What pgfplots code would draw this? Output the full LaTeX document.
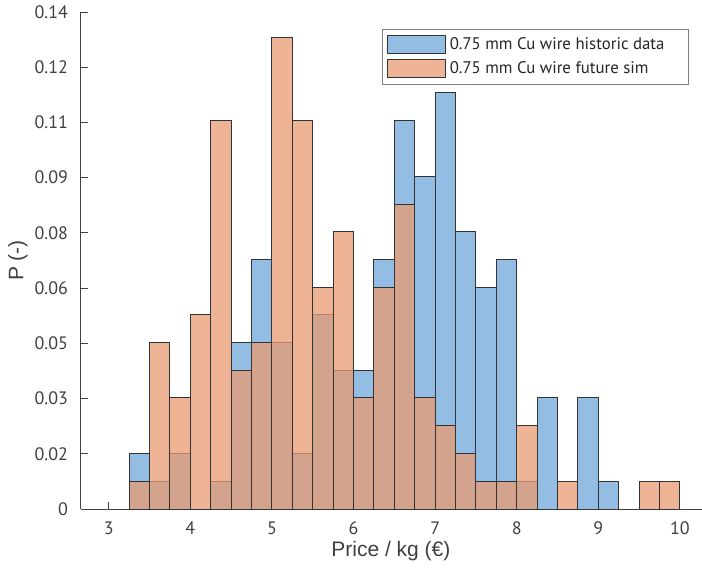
\documentclass[border=0pt]{standalone}
\usepackage{fontspec}
\setmainfont{PT Sans}
\newfontfamily\labelfont{Liberation Sans}
\usepackage{pgfplots}
\pgfplotsset{compat=1.18}
\definecolor{hblue}{RGB}{147,189,226}
\definecolor{forange}{RGB}{234,155,115}
\definecolor{axgray}{RGB}{64,64,64}
\pgfplotsset{histlegend/.style={legend image code/.code={\draw[##1] (0pt,-4.5pt) rectangle (29pt,4.5pt);}}}
\begin{document}
\begin{tikzpicture}
\begin{axis}[
  scale only axis, width=310.5pt, height=248.5pt,
  xmin=2.66, xmax=10.27, ymin=0, ymax=0.14,
  axis x line=bottom, axis y line=left,
  axis line style={-, draw=axgray, line width=0.5pt},
  tick align=inside, major tick length=3.3pt,
  tick style={draw=axgray, line width=0.5pt},
  xtick={3,4,5,6,7,8,9,10},
  ytick={0,0.015556,0.031111,0.046667,0.062222,0.077778,0.093333,0.108889,0.124444,0.14},
  yticklabels={0,0.02,0.03,0.05,0.06,0.08,0.09,0.11,0.12,0.14},
  /pgf/number format/assume math mode=true,
  ticklabel style={font=\fontsize{9}{10}\selectfont, text=axgray},
  xticklabel style={yshift=-3pt},
  yticklabel style={xshift=-3pt},
  xlabel={Price / kg (€)}, ylabel={P (-)},
  label style={font=\labelfont\fontsize{10.5}{12}\selectfont, text=axgray},
  xlabel style={at={(axis description cs:0.499,-0.0845)}, anchor=center},
  ylabel style={at={(axis description cs:-0.1014,0.5)}, anchor=center},
  legend style={at={(0.979,0.966)}, anchor=north east, draw=gray, line width=0.5pt,
    font=\fontsize{8.4}{10}\selectfont, text=black!85, inner sep=2pt, row sep=0.5pt,
    cells={anchor=west}},
]
\addplot[ybar interval, fill=hblue, draw=black!80, line width=0.5pt, histlegend] coordinates {
(3.25,0.0156) (3.50,0.0078) (3.75,0.0156) (4.00,0) (4.25,0.0078)
(4.50,0.0469) (4.75,0.0703) (5.00,0.0469) (5.25,0.0156) (5.50,0.0547)
(5.75,0.0391) (6.00,0.0391) (6.25,0.0703) (6.50,0.1094) (6.75,0.0938)
(7.00,0.1172) (7.25,0.0781) (7.50,0.0625) (7.75,0.0703) (8.00,0.0078)
(8.25,0.0313) (8.50,0) (8.75,0.0313) (9.00,0.0078) (9.25,0)
};
\addlegendentry{0.75 mm Cu wire historic data\rule{8pt}{0pt}}
\addplot[ybar interval, fill=forange, fill opacity=0.75, draw=black!80, line width=0.5pt, histlegend] coordinates {
(3.25,0.0078) (3.50,0.0469) (3.75,0.0313) (4.00,0.0547) (4.25,0.1094)
(4.50,0.0391) (4.75,0.0469) (5.00,0.1328) (5.25,0.1094) (5.50,0.0625)
(5.75,0.0781) (6.00,0.0313) (6.25,0.0625) (6.50,0.0859) (6.75,0.0313)
(7.00,0.0234) (7.25,0.0156) (7.50,0.0078) (7.75,0.0078) (8.00,0.0234)
(8.25,0) (8.50,0.0078) (8.75,0) (9.00,0) (9.25,0)
(9.50,0.0078) (9.75,0.0078) (10.00,0)
};
\addlegendentry{0.75 mm Cu wire future sim}
\end{axis}
\pgfresetboundingbox
\path[use as bounding box] (-40.5pt,-30.5pt) rectangle (310.5pt,254.5pt);
\end{tikzpicture}
\end{document}
